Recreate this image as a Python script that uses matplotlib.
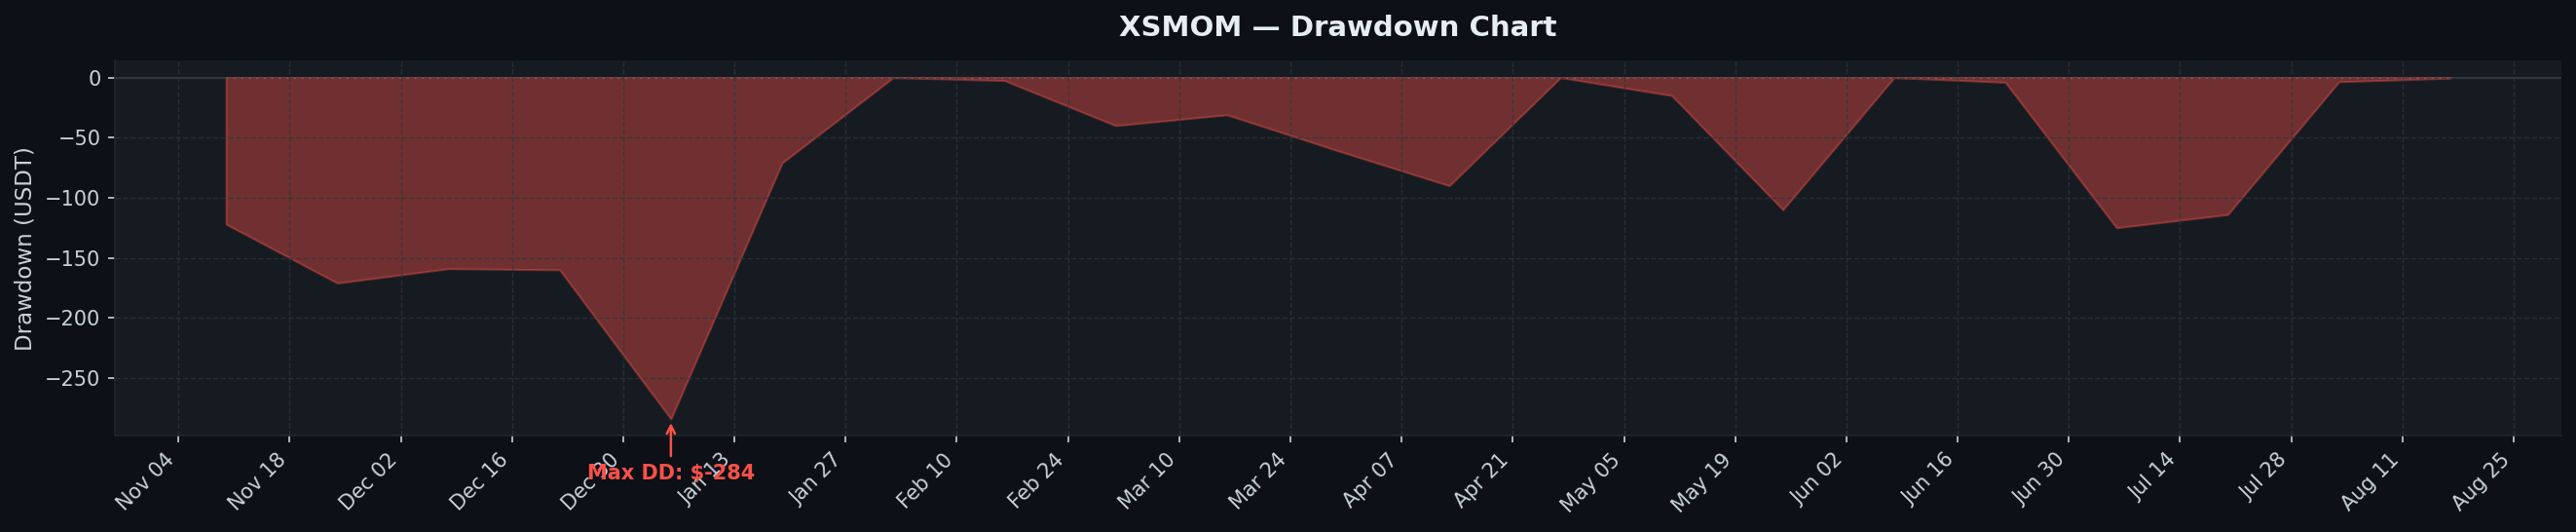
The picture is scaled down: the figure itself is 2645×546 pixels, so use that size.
import numpy as np
import pandas as pd
import matplotlib
matplotlib.use("Agg")
import matplotlib.pyplot as plt
import matplotlib.dates as mdates

# drawdown sampled every two weeks (USDT)
dates = pd.date_range("2024-11-10", "2025-08-17", freq="14D")
drawdown = [-122, -171, -159, -160, -284, -71, 0, -2.5, -40, -31, -61, -90,
            0, -15, -110, 0, -4, -125, -114, -3.5, -0.5]
tick_dates = pd.date_range("2024-11-04", "2025-08-25", freq="14D")

bg = "#0d1117"
panel = "#161b22"
red = "#f85149"
txt = "#e6edf3"

fig = plt.figure(figsize=(2645 / 150, 546 / 150), dpi=150, facecolor=bg)
ax = fig.add_axes([0.0446, 0.1806, 0.9497, 0.7058])
ax.set_facecolor(panel)

ax.fill_between(dates, drawdown, 0, color=red, alpha=0.4)
ax.axhline(0, color="#30363d", lw=1, zorder=0.5)

i = int(np.argmin(drawdown))
ax.annotate(f"Max DD: ${drawdown[i]:.0f}", xy=(dates[i], drawdown[i]),
            xytext=(0, -30), textcoords="offset points", ha="center",
            color=red, fontsize=10, fontweight="bold",
            arrowprops=dict(arrowstyle="->", color=red, lw=1.2))

ax.set_xticks(tick_dates)
ax.xaxis.set_major_formatter(mdates.DateFormatter("%b %d"))
plt.setp(ax.get_xticklabels(), rotation=45, ha="right")

ax.set_title("XSMOM — Drawdown Chart", color=txt, fontsize=14,
             fontweight="bold", pad=12)
ax.set_ylabel("Drawdown (USDT)", color="#c9d1d9", fontsize=11)
ax.tick_params(colors="#c9d1d9", labelsize=10)
ax.grid(True, color="#30363d", ls="--", lw=0.7, alpha=0.7)

for s in ["top", "right"]:
    ax.spines[s].set_visible(False)
for s in ["left", "bottom"]:
    ax.spines[s].set_color("#21262d")

fig.savefig("out.png", dpi=150, facecolor=bg)
